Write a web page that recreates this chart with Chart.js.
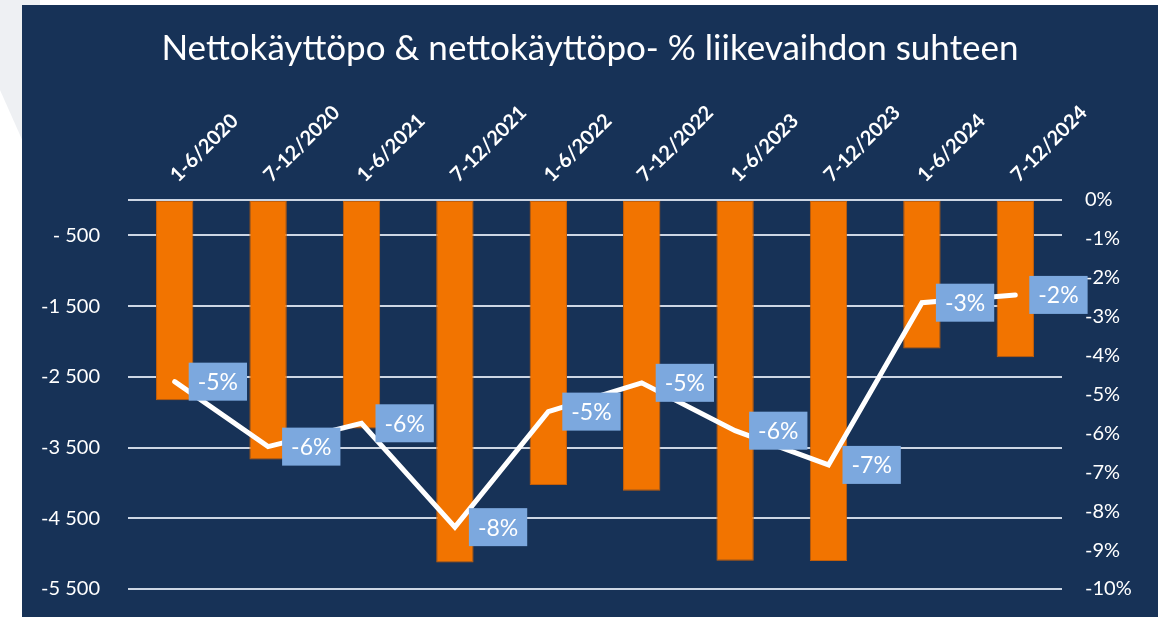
<!DOCTYPE html>
<html>
<head>
<meta charset="utf-8">
<script src="https://cdn.jsdelivr.net/npm/chart.js@4"></script>
<style>
  html, body { margin: 0; padding: 0; background: #ffffff; width: 1158px; height: 617px; overflow: hidden; }
  #deco { position: absolute; left: 0; top: 0; width: 40px; height: 200px;
          background: #eef0f3; clip-path: polygon(0 0, 100% 0, 100% 90%, 0 45%); }
  #panel { position: absolute; left: 22px; top: 5px; width: 1136px; height: 612px; background: #173257; }
</style>
</head>
<body>
<div id="deco"></div>
<div id="panel"><canvas id="myChart" width="1136" height="612"></canvas></div>
<script>
// jaksot
const periods = ['1-6/2020', '7-12/2020', '1-6/2021', '7-12/2021', '1-6/2022',
                 '7-12/2022', '1-6/2023', '7-12/2023', '1-6/2024', '7-12/2024']
// nettokäyttöpo (vasen akseli)
const nettoKp = [-2830, -3670, -3230, -5125, -4030, -4110, -5100, -5105, -2100, -2225]
// nettokäyttöpo-% liikevaihdosta (oikea akseli)
const nettoKpPct = [-4.67, -6.34, -5.74, -8.41, -5.44, -4.70, -5.93, -6.81, -2.64, -2.44]
// vasemman akselin jaotus
const leftTicks = [-5500, -4500, -3500, -2500, -1500, -500, 0]
const leftTickLabels = ['-5 500', '-4 500', '-3 500', '-2 500', '-1 500', '- 500', '']

const FONT = 'Lato'

/* arvolaatikot viivan pisteille */
const pctBoxes = {
	id: 'pctBoxes',
	afterDatasetsDraw(chart) {
		const ctx = chart.ctx
		const meta = chart.getDatasetMeta(0)
		ctx.save()
		ctx.font = '23px ' + FONT
		ctx.textBaseline = 'middle'
		ctx.textAlign = 'center'
		meta.data.forEach(function(pt, i) {
			const txt = Math.round(nettoKpPct[i]) + '%'
			const w = ctx.measureText(txt).width + 18
			const h = 38
			const x = pt.x + 14
			const y = pt.y - h / 2
			ctx.fillStyle = '#7ca8de'
			ctx.fillRect(x, y, w, h)
			ctx.fillStyle = '#ffffff'
			ctx.fillText(txt, x + w / 2, pt.y + 1)
		})
		ctx.restore()
	}
}

/* pystyakselien omat reunavarat pois, jotta kuva-ala on tarkka */
function fixVertical(width) {
	return function(scale) {
		scale.width = width
		scale.paddingTop = 0
		scale.paddingBottom = 0
	}
}

var chartArea = document.getElementById('myChart').getContext('2d')

var myChart = new Chart(chartArea, {
	type: 'bar',
	data: {
		labels: periods,
		datasets: [{
			type: 'line',
			label: 'Nettokäyttöpo-%',
			data: nettoKpPct,
			yAxisID: 'yPct',
			order: 0,
			borderColor: '#ffffff',
			borderWidth: 5,
			borderCapStyle: 'round',
			borderJoinStyle: 'miter',
			pointRadius: 0,
			tension: 0
		}, {
			label: 'Nettokäyttöpo',
			data: nettoKp,
			yAxisID: 'y',
			order: 1,
			backgroundColor: '#f27400',
			borderColor: '#c45e08',
			borderWidth: 1,
			borderSkipped: false,
			categoryPercentage: 1,
			barPercentage: 0.4
		}]
	},
	options: {
		responsive: false,
		animation: false,
		layout: { padding: { top: 0, bottom: 28, left: 0, right: 0 } },
		plugins: {
			legend: { display: false },
			tooltip: { enabled: false },
			title: {
				display: true,
				text: 'Nettokäyttöpo & nettokäyttöpo- % liikevaihdon suhteen',
				color: '#ffffff',
				font: { family: FONT, size: 35, weight: 'normal', lineHeight: 1.2 },
				padding: { top: 22.4, bottom: 0 }
			}
		},
		scales: {
			x: {
				position: 'top',
				grid: { display: false, drawTicks: false },
				border: { display: false },
				ticks: {
					color: '#ffffff',
					font: { family: FONT, size: 20, weight: 'bold' },
					minRotation: 45,
					maxRotation: 45,
					padding: 13,
					labelOffset: 16
				},
				afterFit: function(scale) { scale.height = 130.6 }
			},
			y: {
				position: 'left',
				min: -5500,
				max: 0,
				afterBuildTicks: function(scale) {
					scale.ticks = leftTicks.map(function(v) { return { value: v } })
				},
				ticks: {
					color: '#ffffff',
					font: { family: FONT, size: 20 },
					padding: 28,
					callback: function(v) { return leftTickLabels[leftTicks.indexOf(v)] }
				},
				grid: { color: '#cdd6e4', lineWidth: 2, drawTicks: false },
				border: { display: false },
				afterFit: fixVertical(106)
			},
			yPct: {
				position: 'right',
				min: -10,
				max: 0,
				ticks: {
					stepSize: 1,
					color: '#ffffff',
					font: { family: FONT, size: 20 },
					padding: 23,
					callback: function(v) { return v + '%' }
				},
				grid: { display: false, drawTicks: false },
				border: { display: false },
				afterFit: fixVertical(96)
			}
		}
	},
	plugins: [pctBoxes]
})
</script>
</body>
</html>
